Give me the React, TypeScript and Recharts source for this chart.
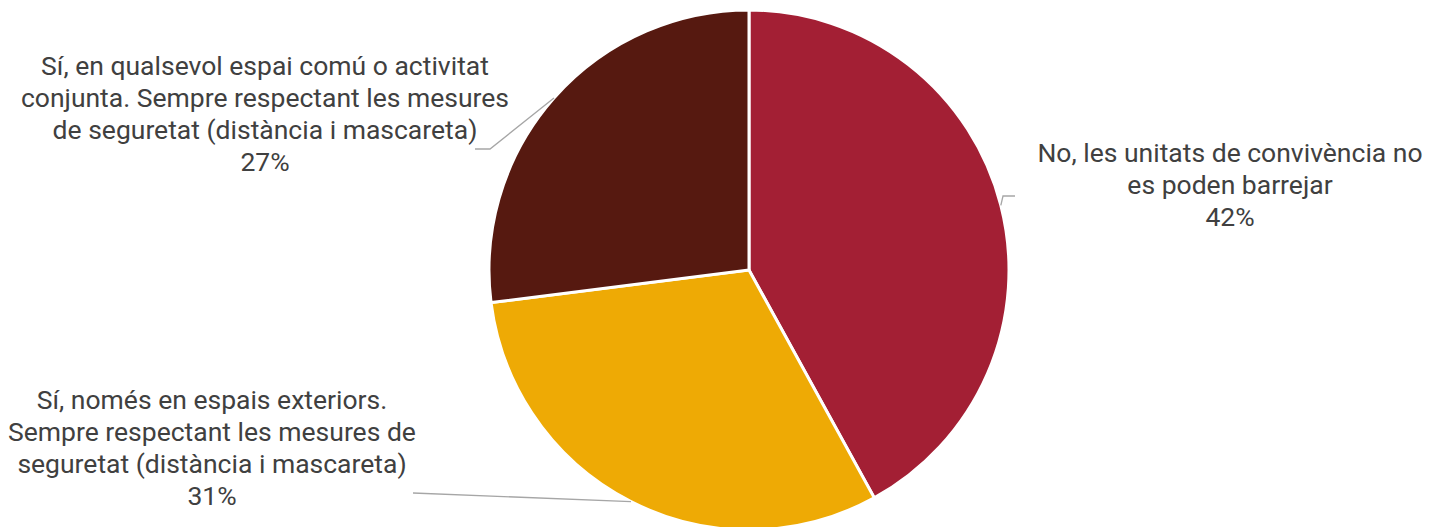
import React from "react";
import { PieChart, Pie, Cell } from "recharts";

const categories = [
  "No, les unitats de convivència no es poden barrejar",
  "Sí, només en espais exteriors. Sempre respectant les mesures de seguretat (distància i mascareta)",
  "Sí, en qualsevol espai comú o activitat conjunta. Sempre respectant les mesures de seguretat (distància i mascareta)",
];
const values = [42, 31, 27];
const labelLines = [
  ["No, les unitats de convivència no", "es poden barrejar", "42%"],
  ["Sí, només en espais exteriors.", "Sempre respectant les mesures de", "seguretat (distància i mascareta)", "31%"],
  ["Sí, en qualsevol espai comú o activitat", "conjunta. Sempre respectant les mesures", "de seguretat (distància i mascareta)", "27%"],
];
const colors = ["#A31F34", "#EEAA05", "#561910"];

const data = categories.map((name, i) => ({ name, value: values[i] }));

// label layout offsets relative to pie center (text center x, first line y, leader path knees)
const layout = [
  { dx: 481, dy: -118, knees: [[254, -74], [266, -74]] },
  { dx: -537, dy: 129, knees: [[-336, 223]] },
  { dx: -484, dy: -205, knees: [[-259, -121], [-274, -121]] },
];

const RAD = Math.PI / 180;
const LINE_H = 32;

const renderLabel = (props: any) => {
  const { cx, cy, midAngle, outerRadius, index } = props;
  const L = layout[index];
  const ex = cx + Math.cos(-midAngle * RAD) * outerRadius;
  const ey = cy + Math.sin(-midAngle * RAD) * outerRadius;
  const pts = [[ex, ey], ...L.knees.map(([kx, ky]) => [cx + kx, cy + ky])];
  const lines = labelLines[index];
  return (
    <g key={"lbl" + index}>
      <polyline
        points={pts.map((p) => p.join(",")).join(" ")}
        fill="none"
        stroke="#A6A6A6"
        strokeWidth={1.3}
      />
      {lines.map((t, i) => (
        <text
          key={i}
          x={cx + L.dx}
          y={cy + L.dy + i * LINE_H}
          textAnchor="middle"
          dominantBaseline="central"
          fill="#404040"
          fontSize={26.5}
          fontFamily="Roboto, sans-serif"
        >
          {t}
        </text>
      ))}
    </g>
  );
};

export default function App() {
  return (
    <div style={{ position: "absolute", left: 0, top: 0, width: 1429, height: 527, background: "#fff" }}>
      <PieChart width={1429} height={527} margin={{ top: 0, right: 0, bottom: 0, left: 0 }}>
        <Pie
          data={data}
          dataKey="value"
          nameKey="name"
          cx={749}
          cy={270}
          outerRadius={260}
          startAngle={90}
          endAngle={-270}
          stroke="#ffffff"
          strokeWidth={3}
          label={renderLabel}
          labelLine={false}
          isAnimationActive={false}
        >
          {data.map((d, i) => (
            <Cell key={d.name} fill={colors[i]} />
          ))}
        </Pie>
      </PieChart>
    </div>
  );
}
